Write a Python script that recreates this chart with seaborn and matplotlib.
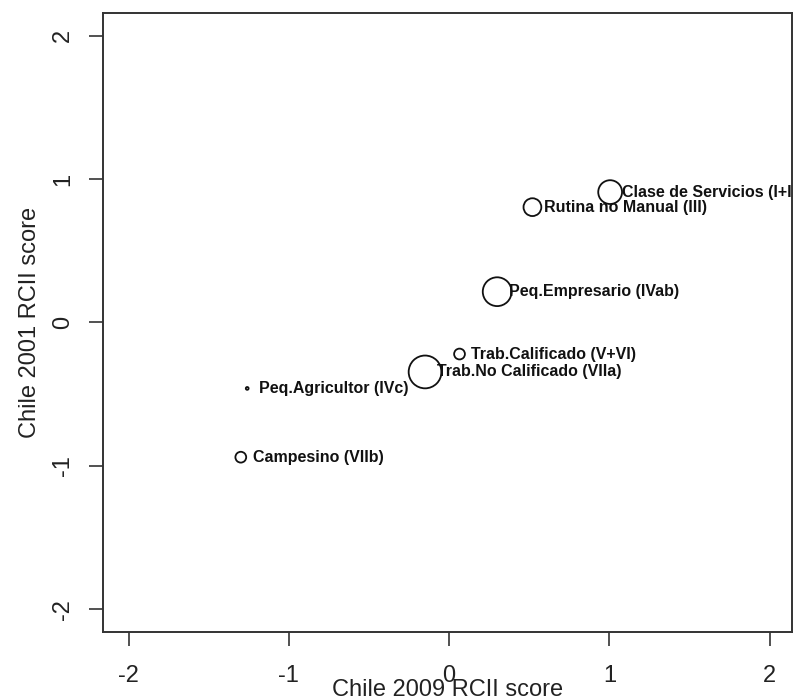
import matplotlib
matplotlib.use("Agg")
import matplotlib.pyplot as plt
import seaborn as sns
import pandas as pd

# ---- data ----
classes = [
    "Clase de Servicios (I+II)",
    "Rutina no Manual (III)",
    "Peq.Empresario (IVab)",
    "Trab.Calificado (V+VI)",
    "Trab.No Calificado (VIIa)",
    "Peq.Agricultor (IVc)",
    "Campesino (VIIb)",
]
score_2009 = [1.005, 0.52, 0.30, 0.065, -0.15, -1.26, -1.30]
score_2001 = [0.91, 0.805, 0.215, -0.22, -0.345, -0.46, -0.94]
weight = [12.5, 9.5, 15.0, 6.0, 17.0, 2.0, 6.0]   # relative circle size
x_ticks = [-2, -1, 0, 1, 2]
y_ticks = [-2, -1, 0, 1, 2]

df = pd.DataFrame({"cls": classes, "x": score_2009, "y": score_2001, "w": weight})

sns.set_style("white")
plt.rcParams["font.family"] = ["Liberation Sans", "DejaVu Sans"]

fig = plt.figure(figsize=(7.97, 7.0), dpi=100)
W, H = 797, 700
L, R, T, B = 103, 792, 13, 632
ax = fig.add_axes([L / W, 1 - B / H, (R - L) / W, (B - T) / H])

size_map = {w: (1.44 * (w - 0.6)) ** 2 for w in weight}
sns.scatterplot(data=df, x="x", y="y", size="w", sizes=size_map,
                facecolor="none", edgecolor="#111111", linewidth=1.3,
                legend=False, ax=ax, zorder=3)

for c, xv, yv in zip(classes, score_2009, score_2001):
    ax.annotate(c, (xv, yv), xytext=(8.5, 0), textcoords="offset points",
                ha="left", va="center", fontsize=11.5, fontweight="bold",
                color="#111111", annotation_clip=True)
for t in ax.texts:
    t.set_clip_on(True)
    t.set_clip_path(ax.patch)

ax.set_xlim(-2.16, 2.14)
ax.set_ylim(-2.16, 2.16)
ax.set_xticks(x_ticks)
ax.set_yticks(y_ticks)
ax.set_xticklabels([str(v) for v in x_ticks])
ax.set_yticklabels([str(v) for v in y_ticks], rotation=90, va="center")

for s in ax.spines.values():
    s.set_visible(True)
    s.set_color("#333333")
    s.set_linewidth(1.4)

ax.tick_params(axis="both", direction="out", length=10, width=1.2,
               color="#333333", labelsize=17, labelcolor="#222222", pad=11,
               bottom=True, left=True)
ax.tick_params(axis="x", pad=14)

ax.set_xlabel("Chile 2009 RCII score", fontsize=17, color="#222222")
ax.set_ylabel("Chile 2001 RCII score", fontsize=17, color="#222222")
ax.xaxis.set_label_coords(0.5, (B - 690) / (B - T))
ax.yaxis.set_label_coords((30 - L) / (R - L), 0.5)
ax.xaxis.label.set_va("center")
ax.yaxis.label.set_va("center")

fig.savefig("out.png", dpi=100)
